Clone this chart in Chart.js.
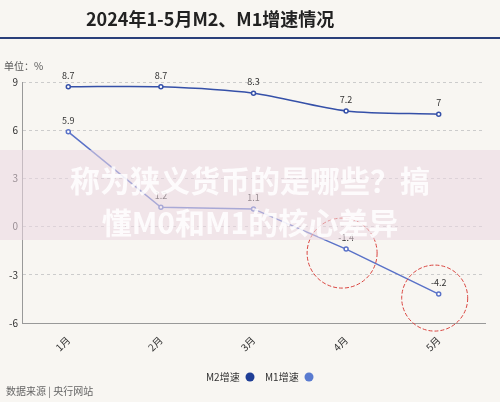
<!DOCTYPE html>
<html>
<head>
<meta charset="utf-8">
<script src="https://cdn.jsdelivr.net/npm/chart.js@4"></script>
<style>
  body { margin: 0; background: #f8f6f2; }
  #wrap { width: 500px; height: 402px; }
</style>
</head>
<body>
<div id="wrap"><canvas id="myChart"></canvas></div>
<script>
const months = ['1月', '2月', '3月', '4月', '5月'];
const m2Data = [8.7, 8.7, 8.3, 7.2, 7];
const m1Data = [5.9, 1.2, 1.1, -1.4, -4.2];
const yTicks = [-6, -3, 0, 3, 6, 9];
const font = '"Noto Sans CJK SC", "Noto Sans", sans-serif';

// 标题、标注、图例等额外绘制
const extras = {
  id: 'extras',
  afterDraw(chart) {
    const c = chart.ctx;
    const xs = chart.scales.x, ys = chart.scales.y;
    c.save();
    c.fillStyle = '#222';
    c.font = 'bold 18px ' + font;
    c.textAlign = 'left';
    c.fillText('2024年1-5月M2、M1增速情况', 86, 26);
    c.fillStyle = '#2a3f7a';
    c.fillRect(0, 37, 500, 2);
    c.fillStyle = '#555';
    c.font = '10px ' + font;
    c.fillText('单位：%', 4, 70);

    // 数据标签
    c.textAlign = 'center';
    c.fillStyle = '#333';
    c.font = '9px ' + font;
    m2Data.forEach((v, i) => c.fillText(String(v), xs.getPixelForValue(i), ys.getPixelForValue(v) - 8));
    m1Data.forEach((v, i) => c.fillText(String(v), xs.getPixelForValue(i), ys.getPixelForValue(v) - 8));

    // 红色圈
    c.strokeStyle = '#d9443f';
    c.lineWidth = 1;
    c.setLineDash([4, 2]);
    [[3, 35], [4, 33]].forEach(([i, r]) => {
      c.beginPath();
      c.arc(xs.getPixelForValue(i) - 4, ys.getPixelForValue(m1Data[i]) + 4, r, 0, Math.PI * 2);
      c.stroke();
    });
    c.setLineDash([]);

    // 水印横幅
    c.fillStyle = 'rgba(235,215,225,0.55)';
    c.fillRect(0, 150, 500, 90);
    c.fillStyle = 'rgba(255,255,255,0.85)';
    c.font = 'bold 30px ' + font;
    c.fillText('称为狭义货币的是哪些？搞', 250, 192);
    c.fillText('懂M0和M1的核心差异', 250, 234);

    // 图例
    c.font = '10px ' + font;
    c.fillStyle = '#333';
    c.textAlign = 'left';
    c.fillText('M2增速', 206, 381);
    c.fillText('M1增速', 265, 381);
    c.fillStyle = '#1f3e96';
    c.beginPath(); c.arc(250, 377, 4.5, 0, Math.PI * 2); c.fill();
    c.fillStyle = '#5a7bd0';
    c.beginPath(); c.arc(309, 377, 4.5, 0, Math.PI * 2); c.fill();

    c.fillStyle = '#666';
    c.fillText('数据来源 | 央行网站', 6, 395);
    c.restore();
  }
};

new Chart(document.getElementById('myChart'), {
  type: 'line',
  data: {
    labels: months,
    datasets: [{
      label: 'M2增速',
      data: m2Data,
      borderColor: '#3550a8',
      backgroundColor: '#ffffff',
      pointBorderColor: '#3550a8',
      borderWidth: 1.5,
      pointRadius: 2,
      tension: 0.3
    }, {
      label: 'M1增速',
      data: m1Data,
      borderColor: '#5a72c8',
      backgroundColor: '#ffffff',
      pointBorderColor: '#5a72c8',
      borderWidth: 1.5,
      pointRadius: 2,
      tension: 0
    }]
  },
  options: {
    responsive: true,
    maintainAspectRatio: false,
    animation: false,
    layout: { padding: { top: 82, right: 15, left: 0, bottom: 0 } },
    plugins: { legend: { display: false }, tooltip: { enabled: false } },
    scales: {
      x: {
        offset: true,
        grid: { display: false },
        border: { color: '#999' },
        ticks: { maxRotation: 45, minRotation: 45, color: '#333', font: { size: 10, family: font } },
        afterFit(s) { s.height = 79; }
      },
      y: {
        min: -6, max: 9,
        afterBuildTicks(s) { s.ticks = yTicks.map(v => ({ value: v })); },
        grid: { color: '#ccc', tickLength: 0 },
        border: { display: true, color: '#999', dash: [3, 3] },
        ticks: { color: '#333', font: { size: 10, family: font }, padding: 4 },
        afterFit(s) { s.width = 22; }
      }
    }
  },
  plugins: [extras]
});
</script>
</body>
</html>
